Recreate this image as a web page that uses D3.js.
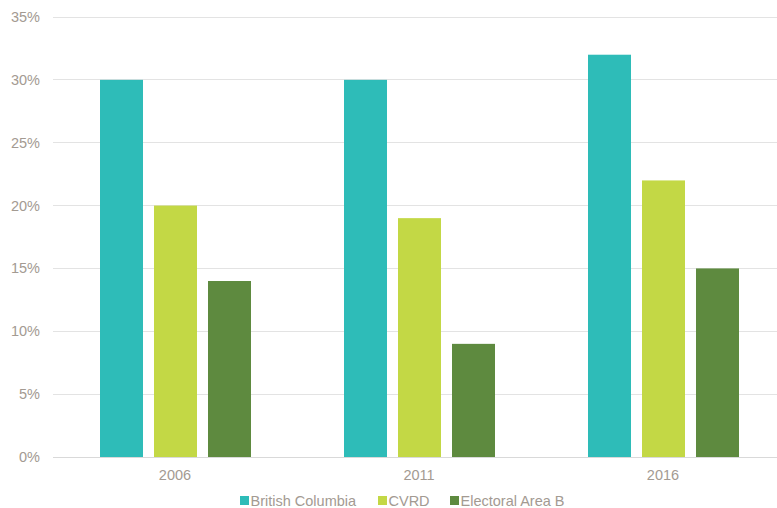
<!DOCTYPE html>
<html><head><meta charset="utf-8">
<script src="https://cdn.jsdelivr.net/npm/d3@7"></script>
<style>body{margin:0;background:#fff}svg{display:block}text{font-family:"Liberation Sans",Arial,sans-serif}</style>
</head><body><svg id="c" width="777" height="508"></svg>
<script>
const years = ["2006","2011","2016"];
const seriesNames = ["British Columbia","CVRD","Electoral Area B"];
const britishColumbia = [30,30,32];
const cvrd = [20,19,22];
const electoralAreaB = [14,9,15];
const yTicks = [0,5,10,15,20,25,30,35];
const colors = ["#2ebcb8","#c3d845","#5e8a3f"];

const svg = d3.select("#c");
const x = d3.scaleBand().domain(years).range([53,785]);
const y = d3.scaleLinear().domain([0,35]).range([457,17]);
const textColor = "#a39a92";

svg.append("g").selectAll("line").data(yTicks).join("line")
  .attr("x1",53).attr("x2",777).attr("y1",d=>y(d)).attr("y2",d=>y(d))
  .attr("stroke",d=>d===0?"#d9d9d9":"#e3e3e3").attr("stroke-width",1)
  .attr("shape-rendering","crispEdges");

svg.append("g").selectAll("text").data(yTicks).join("text")
  .attr("x",40).attr("y",d=>y(d)+5).attr("text-anchor","end")
  .attr("font-size",14.5).attr("fill",textColor).text(d=>d+"%");

const data = [britishColumbia,cvrd,electoralAreaB];
const inner = d3.scaleBand().domain([0,1,2]).range([47,198]).paddingInner(22/108);
data.forEach((vals,si)=>{
  svg.append("g").selectAll("rect").data(vals).join("rect")
    .attr("x",(d,i)=>x(years[i])+inner(si))
    .attr("width",inner.bandwidth())
    .attr("y",d=>y(d)).attr("height",d=>y(0)-y(d))
    .attr("fill",colors[si]);
});

svg.append("g").selectAll("text").data(years).join("text")
  .attr("x",d=>x(d)+x.bandwidth()/2).attr("y",480).attr("text-anchor","middle")
  .attr("font-size",14.5).attr("fill",textColor).text(d=>d);

const legX = [240,378,450];
const lg = svg.append("g");
seriesNames.forEach((n,i)=>{
  lg.append("rect").attr("x",legX[i]).attr("y",496).attr("width",9).attr("height",9).attr("fill",colors[i]);
  lg.append("text").attr("x",legX[i]+10.5).attr("y",505.5).attr("font-size",14.5).attr("fill",textColor).text(n);
});
</script></body></html>
